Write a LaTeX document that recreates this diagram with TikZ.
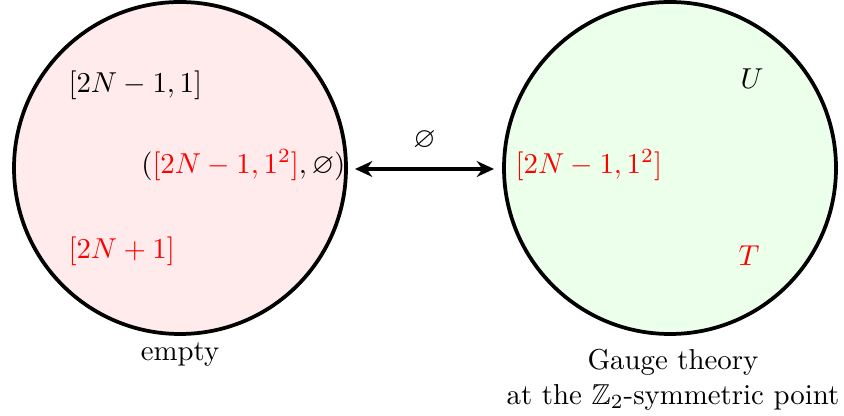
\documentclass[tikz,border=0pt]{standalone}
\usepackage{amssymb}
\usetikzlibrary{arrows.meta}
\begin{document}
\begin{tikzpicture}[x=0.347pt,y=-0.347pt,
  region/.style={draw=black,line width=1.3pt},
  lbl/.style={inner sep=0pt},
  conn/.style={line width=1.3pt,{Stealth[length=6pt,width=5.5pt]}-{Stealth[length=6pt,width=5.5pt]}}]
\useasboundingbox[fill=white] (0,0) rectangle (844,416);
\draw[region,fill=red!8] (180,168) circle[radius=166];
\draw[region,fill=green!8] (670,168) circle[radius=166];
\node[lbl,anchor=west] (a1) at (68,85) {$[2N-1,1]$};
\node[lbl,anchor=east] (a2) at (346,165) {$(\textcolor{red}{[2N-1,1^2]},\varnothing)$};
\node[lbl,anchor=west,text=red] (a3) at (68,251) {$[2N+1]$};
\node[lbl] (lempty) at (180,355) {empty};
\node[lbl,anchor=west,text=red] (b1) at (515,165) {$[2N-1,1^2]$};
\node[lbl] (bU) at (752,79) {$U$};
\node[lbl,text=red] (bT) at (749,256) {$T$};
\node[lbl,align=center] (lgauge) at (673,380) {Gauge theory\\at the $\mathbb{Z}_2$-symmetric point};
\coordinate (pL) at (355,169);
\coordinate (pR) at (494,169);
\draw[conn] (pL) -- node[above=6pt,inner sep=0pt] {$\varnothing$} (pR);
\end{tikzpicture}
\end{document}
